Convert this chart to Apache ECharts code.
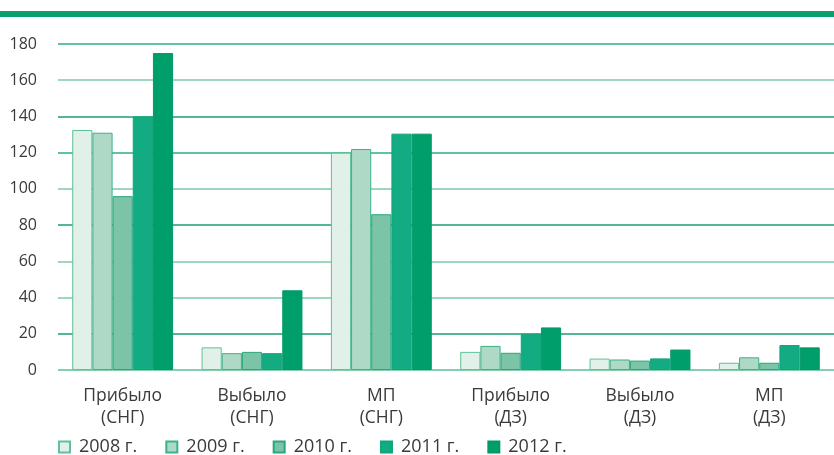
<!DOCTYPE html>
<html><head><meta charset="utf-8">
<script src="https://cdn.jsdelivr.net/npm/echarts@6/dist/echarts.min.js"></script>
<style>html,body{margin:0;padding:0;background:#fff}#c{width:834px;height:455px}</style>
</head><body><div id="c"></div>
<script>
const categories = ['Прибыло\n(СНГ)', 'Выбыло\n(СНГ)', 'МП\n(СНГ)', 'Прибыло\n(ДЗ)', 'Выбыло\n(ДЗ)', 'МП\n(ДЗ)'];
const seriesNames = ['2008 г.', '2009 г.', '2010 г.', '2011 г.', '2012 г.'];
const v2008 = [132.5, 12.5, 120, 10, 6.3, 4];
const v2009 = [131, 9.3, 122, 13.3, 5.8, 7];
const v2010 = [96, 10, 86, 9.5, 5.2, 4];
const v2011 = [140, 9.3, 130.5, 20, 6.4, 13.8];
const v2012 = [175, 44, 130.5, 23.5, 11.3, 12.5];
const yTicks = [0, 20, 40, 60, 80, 100, 120, 140, 160, 180];

const values = [v2008, v2009, v2010, v2011, v2012];
const fills = ['#e1f1e9', '#aed9c7', '#7bc4a8', '#13ab82', '#009e6a'];
const borders = ['#5fc197', '#3db188', '#2aa77c', '#11a57c', '#009a67'];
const font = '"Open Sans", "Noto Sans", sans-serif';

const chart = echarts.init(document.getElementById('c'));
chart.setOption({
  animation: false,
  graphic: [{ type: 'rect', left: 0, top: 11, shape: { width: 834, height: 6 }, style: { fill: '#0aa06b' } }],
  grid: { left: 58, right: 0, top: 44, bottom: 85 },
  legend: {
    left: 58, top: 438, padding: 0, itemWidth: 11, itemHeight: 11, itemGap: 28,
    icon: 'rect',
    textStyle: { fontFamily: font, fontSize: 18, color: '#3a3a3a', padding: [0, 0, 0, 4] },
    data: seriesNames
  },
  xAxis: {
    type: 'category', data: categories,
    axisLine: { show: false }, axisTick: { show: false },
    axisLabel: { fontFamily: font, fontSize: 17.5, color: '#3a3a3a', lineHeight: 22, margin: 15 }
  },
  yAxis: {
    type: 'value', min: 0, max: 180, interval: 20,
    axisLine: { show: false }, axisTick: { show: false },
    axisLabel: { fontFamily: font, fontSize: 16, color: '#3a3a3a', margin: 21,
      formatter: v => yTicks.includes(v) ? String(v) : '' },
    splitLine: { lineStyle: { width: 1.5, color: ['#5cbf97', '#1e9c70', '#7fcaa9', '#7fcaa9', '#1e9c70', '#7fcaa9', '#2bae80', '#1e9c70', '#7fcaa9', '#2bae80'] } }
  },
  series: values.map((d, i) => ({
    name: seriesNames[i], type: 'bar', data: d,
    barGap: '0%', barCategoryGap: '22%',
    itemStyle: { color: fills[i], borderColor: borders[i], borderWidth: 1 }
  }))
});
</script></body></html>
